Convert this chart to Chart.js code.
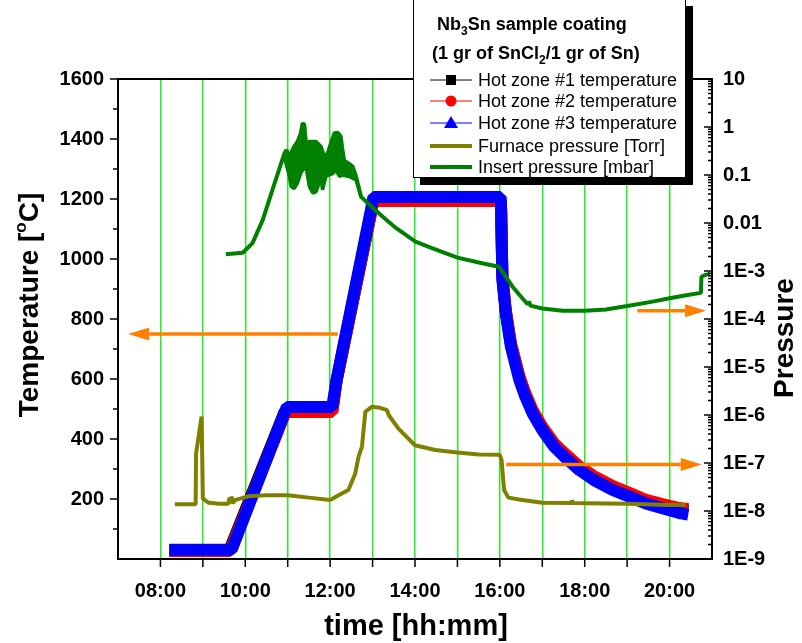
<!DOCTYPE html>
<html>
<head>
<meta charset="utf-8">
<script src="https://cdn.jsdelivr.net/npm/chart.js@4.4.0/dist/chart.umd.min.js"></script>
<style>
  html, body { margin: 0; padding: 0; background: #fff; }
  #wrap { position: relative; width: 802px; height: 643px; overflow: hidden; font-family: "Liberation Sans", Arial, sans-serif; }
  #legend { position: absolute; left: 413px; top: -1px; width: 271px; height: 177px; border: 1px solid #000; background: #fff; box-shadow: 7px 7px 0 #000; color: #000; }
  #legend .t { position: absolute; font-weight: bold; font-size: 18px; line-height: 20px; white-space: nowrap; }
  #legend sub { font-size: 12px; line-height: 0; vertical-align: -5px; }
  #legend .row { position: absolute; left: 16px; height: 20px; white-space: nowrap; font-size: 18px; line-height: 20px; }
  #legend .row svg { position: absolute; left: 0; top: 0; }
  #legend .row span { position: absolute; left: 48px; top: 0; }
</style>
</head>
<body>
<div id="wrap">
  <canvas id="c" width="802" height="643"></canvas>
  <div id="legend">
    <div class="t" style="left:23px; top:14px;">Nb<sub>3</sub>Sn sample coating</div>
    <div class="t" style="left:18px; top:43px;">(1 gr of SnCl<sub>2</sub>/1 gr of Sn)</div>
    <div class="row" style="top:70px;"><svg width="44" height="20"><line x1="0" y1="10" x2="42" y2="10" stroke="#000" stroke-width="1"/><rect x="16" y="5" width="10" height="10" fill="#000"/></svg><span>Hot zone #1 temperature</span></div>
    <div class="row" style="top:91px;"><svg width="44" height="20"><line x1="0" y1="10" x2="42" y2="10" stroke="#f00" stroke-width="1"/><circle cx="21" cy="10" r="5.5" fill="#f00"/></svg><span>Hot zone #2 temperature</span></div>
    <div class="row" style="top:113px;"><svg width="44" height="20"><line x1="0" y1="10" x2="42" y2="10" stroke="#00f" stroke-width="1"/><polygon points="21,3 28,15 14,15" fill="#00f"/></svg><span>Hot zone #3 temperature</span></div>
    <div class="row" style="top:136px;"><svg width="44" height="20"><line x1="0" y1="10" x2="42" y2="10" stroke="#808000" stroke-width="4"/></svg><span>Furnace pressure [Torr]</span></div>
    <div class="row" style="top:157px;"><svg width="44" height="20"><line x1="0" y1="10" x2="42" y2="10" stroke="#008000" stroke-width="4"/></svg><span>Insert pressure [mbar]</span></div>
  </div>
</div>
<script>
// time in decimal hours
const timeTicks = [8, 10, 12, 14, 16, 18, 20];
const timeLabels = ["08:00", "10:00", "12:00", "14:00", "16:00", "18:00", "20:00"];
const tempTicks = [200, 400, 600, 800, 1000, 1200, 1400, 1600];
const tempLabels = ["200", "400", "600", "800", "1000", "1200", "1400", "1600"];
const pressureTicks = [1e-9, 1e-8, 1e-7, 1e-6, 1e-5, 1e-4, 1e-3, 0.01, 0.1, 1, 10];
const pressureLabels = ["1E-9", "1E-8", "1E-7", "1E-6", "1E-5", "1E-4", "1E-3", "0.01", "0.1", "1", "10"];

// hot zone temperatures [°C]
const zone1Time = [8.21, 9.62, 10.93, 12.05, 12.15, 12.96, 13.02, 16.02, 16.03, 16.06, 16.14, 16.26, 16.46, 16.6, 16.77, 17.0, 17.28, 17.52, 17.87, 18.22, 18.66, 19.05, 19.44, 19.83, 20.23, 20.44];
const zone1Temp = [28, 28, 492, 492, 592, 1150, 1195, 1195, 1165, 940, 825, 715, 605, 550, 493, 438, 382, 350, 305, 272, 240, 217, 194, 180, 165, 161];
const zone2Time = [8.21, 9.64, 10.95, 12.05, 12.15, 12.96, 13.02, 16.02, 16.03, 16.06, 16.14, 16.26, 16.46, 16.6, 16.77, 17.0, 17.28, 17.52, 17.87, 18.22, 18.66, 19.05, 19.44, 19.83, 20.23, 20.44];
const zone2Temp = [27, 27, 490, 490, 592, 1152, 1193, 1193, 1165, 945, 830, 720, 610, 553, 497, 441, 386, 353, 309, 276, 243, 221, 197, 183, 170, 167];
const zone3Time = [8.21, 9.68, 10.98, 12.05, 12.15, 12.96, 13.02, 16.02, 16.03, 16.06, 16.14, 16.26, 16.46, 16.6, 16.77, 17.0, 17.28, 17.52, 17.87, 18.22, 18.66, 19.05, 19.44, 19.83, 20.23, 20.44];
const zone3Temp = [31, 31, 507, 507, 597, 1163, 1207, 1207, 1160, 930, 819, 708, 597, 541, 486, 430, 374, 341, 297, 263, 230, 208, 185, 169, 153, 148];

// furnace pressure [Torr]
const furnaceTime = [8.34, 8.83, 8.84, 8.97, 9.0, 9.14, 9.38, 9.6, 9.63, 9.65, 9.68, 9.7, 9.77, 10.09, 10.48, 11.0, 11.5, 12.0, 12.2, 12.43, 12.59, 12.67, 12.75, 12.83, 12.98, 13.18, 13.34, 13.38, 13.61, 14.0, 14.48, 15.0, 15.5, 16.0, 16.04, 16.1, 16.2, 16.45, 17.0, 17.68, 17.7, 17.72, 18.0, 19.0, 20.0, 20.38];
const furnaceP = [1.38e-8, 1.38e-8, 1.58e-7, 9.3e-7, 1.82e-8, 1.48e-8, 1.41e-8, 1.41e-8, 1.9e-8, 1.45e-8, 2.0e-8, 1.45e-8, 1.7e-8, 2.04e-8, 2.14e-8, 2.14e-8, 1.9e-8, 1.7e-8, 2.14e-8, 2.75e-8, 6.0e-8, 1.35e-7, 2.2e-7, 1.17e-6, 1.48e-6, 1.41e-6, 1.26e-6, 1.0e-6, 5.2e-7, 2.34e-7, 1.86e-7, 1.66e-7, 1.51e-7, 1.48e-7, 1.15e-7, 2.75e-8, 1.9e-8, 1.74e-8, 1.48e-8, 1.46e-8, 1.7e-8, 1.46e-8, 1.45e-8, 1.41e-8, 1.33e-8, 1.33e-8];

// insert pressure [mbar], upper edge of the noisy part
const insertTime = [9.54, 9.94, 10.17, 10.41, 10.64, 10.92, 10.97, 11.04, 11.15, 11.23, 11.31, 11.35, 11.39, 11.43, 11.51, 11.67, 11.78, 11.86, 11.94, 12.02, 12.10, 12.18, 12.25, 12.29, 12.33, 12.45, 12.53, 12.61, 12.73, 13.0, 13.24, 13.55, 14.01, 14.4, 15.0, 15.58, 15.98, 16.3, 16.53, 16.66, 16.69, 16.72, 17.0, 17.48, 18.0, 18.5, 19.0, 19.6, 20.0, 20.46, 20.74, 20.75, 20.85, 20.95];
const insertP = [2.24e-3, 2.4e-3, 3.8e-3, 1.15e-2, 4.9e-2, 0.28, 0.33, 0.24, 0.39, 0.49, 0.74, 1.2, 1.12, 0.46, 0.49, 0.49, 0.39, 0.24, 0.28, 0.46, 0.74, 0.76, 0.63, 0.33, 0.2, 0.17, 0.15, 0.093, 0.035, 0.021, 0.0135, 0.0079, 0.0041, 0.003, 0.0019, 0.00145, 0.00123, 4.7e-4, 2.7e-4, 2.0e-4, 2.3e-4, 1.9e-4, 1.66e-4, 1.48e-4, 1.48e-4, 1.58e-4, 1.86e-4, 2.3e-4, 2.7e-4, 3.2e-4, 3.5e-4, 7.6e-4, 8.3e-4, 8.7e-4];
// lower edge of the noisy part (filled up to the insert line)
const insertLowTime = [10.92, 11.04, 11.08, 11.15, 11.23, 11.31, 11.35, 11.43, 11.51, 11.59, 11.67, 11.74, 11.78, 11.82, 11.90, 11.98, 12.06, 12.14, 12.22, 12.29, 12.45, 12.61, 12.73];
const insertLowP = [0.24, 0.093, 0.058, 0.052, 0.068, 0.11, 0.126, 0.15, 0.058, 0.042, 0.045, 0.068, 0.093, 0.049, 0.093, 0.1, 0.107, 0.126, 0.093, 0.1, 0.093, 0.079, 0.035];

// orange arrows: axis, start time, end time, level
const arrowAxis = ["yT", "yP", "yP"];
const arrowFrom = [12.18, 19.24, 16.15];
const arrowTo = [7.24, 20.86, 20.76];
const arrowLevel = [750, 1.48e-4, 9.3e-8];

const FONT = '"Liberation Sans", Arial, sans-serif';

function series(label, t, v, color, width, axis, order) {
  return {
    label: label,
    data: t.map((x, i) => ({ x: x, y: v[i] })),
    borderColor: color,
    backgroundColor: color,
    borderWidth: width,
    pointRadius: 0,
    yAxisID: axis,
    order: order,
    borderJoinStyle: "bevel",
    fill: false,
  };
}

const datasets = [
  series("Hot zone #1 temperature", zone1Time, zone1Temp, "#000000", 12, "yT", 6),
  series("Hot zone #2 temperature", zone2Time, zone2Temp, "#ff0000", 12, "yT", 5),
  series("Hot zone #3 temperature", zone3Time, zone3Temp, "#0000ff", 12, "yT", 4),
  series("Furnace pressure [Torr]", furnaceTime, furnaceP, "#808000", 4, "yP", 3),
  series("Insert pressure [mbar]", insertTime, insertP, "#008000", 4, "yP", 2),
  series("insert low", insertLowTime, insertLowP, "#008000", 3.5, "yP", 2),
];
datasets[5].fill = { target: 4 };

const extras = {
  id: "extras",
  afterDatasetsDraw(chart) {
    const { ctx, scales } = chart;
    const x = scales.x;
    ctx.save();
    ctx.strokeStyle = "#ff8000";
    ctx.fillStyle = "#ff8000";
    ctx.lineWidth = 3.5;
    for (let i = 0; i < arrowFrom.length; i++) {
      const y = scales[arrowAxis[i]].getPixelForValue(arrowLevel[i]);
      const x0 = x.getPixelForValue(arrowFrom[i]);
      const x1 = x.getPixelForValue(arrowTo[i]);
      const dir = x1 > x0 ? 1 : -1;
      const head = 21;
      ctx.beginPath();
      ctx.moveTo(x0, y);
      ctx.lineTo(x1 - dir * head, y);
      ctx.stroke();
      ctx.beginPath();
      ctx.moveTo(x1, y);
      ctx.lineTo(x1 - dir * head, y - 6.5);
      ctx.lineTo(x1 - dir * head, y + 6.5);
      ctx.closePath();
      ctx.fill();
    }
    ctx.restore();
  },
  afterDraw(chart) {
    const { ctx, chartArea: a, scales } = chart;
    const x = scales.x, yT = scales.yT, yP = scales.yP;
    ctx.save();
    ctx.strokeStyle = "#000";
    ctx.lineWidth = 2;
    ctx.strokeRect(a.left, a.top, a.right - a.left, a.bottom - a.top);

    // tick marks
    ctx.lineWidth = 1.5;
    ctx.beginPath();
    for (let h = 8; h <= 20; h++) {
      const px = x.getPixelForValue(h);
      ctx.moveTo(px, a.bottom);
      ctx.lineTo(px, a.bottom + 8);
    }
    for (let v = 100; v <= 1600; v += 100) {
      const py = yT.getPixelForValue(v);
      const len = v % 200 === 0 ? 8 : 5;
      ctx.moveTo(a.left - len, py);
      ctx.lineTo(a.left, py);
    }
    for (let d = -9; d <= 1; d++) {
      for (let k = 1; k <= 9; k++) {
        const v = k * Math.pow(10, d);
        if (v > 10.0001) break;
        const py = yP.getPixelForValue(v);
        const len = k === 1 ? 8 : 4;
        ctx.moveTo(a.right - len, py);
        ctx.lineTo(a.right, py);
      }
    }
    ctx.stroke();

    // axis titles
    ctx.fillStyle = "#000";
    ctx.textBaseline = "middle";
    const big = "bold 28px " + FONT;
    const small = "bold 17px " + FONT;
    ctx.font = big;
    const p1 = "Temperature [", p3 = "C]";
    const w1 = ctx.measureText(p1).width, w3 = ctx.measureText(p3).width;
    ctx.font = small;
    const w2 = ctx.measureText("o").width;
    const total = w1 + w2 + w3;
    ctx.save();
    ctx.translate(30, (a.top + a.bottom) / 2 - 14);
    ctx.rotate(-Math.PI / 2);
    ctx.textAlign = "left";
    ctx.font = big;
    ctx.fillText(p1, -total / 2, 0);
    ctx.font = small;
    ctx.fillText("o", -total / 2 + w1, -9);
    ctx.font = big;
    ctx.fillText(p3, -total / 2 + w1 + w2, 0);
    ctx.restore();

    ctx.save();
    ctx.translate(785, (a.top + a.bottom) / 2 + 19);
    ctx.rotate(-Math.PI / 2);
    ctx.textAlign = "center";
    ctx.font = big;
    ctx.fillText("Pressure", 0, 0);
    ctx.restore();

    ctx.textAlign = "center";
    ctx.font = "bold 29px " + FONT;
    ctx.fillText("time [hh:mm]", (a.left + a.right) / 2 + 1, 627);
    ctx.restore();
  },
};

const tickFont = { family: FONT, size: 20, weight: "bold" };

new Chart(document.getElementById("c"), {
  type: "line",
  data: { datasets: datasets },
  options: {
    responsive: false,
    animation: false,
    layout: { padding: { top: 79, left: 0, right: 0, bottom: 0 } },
    plugins: { legend: { display: false }, tooltip: { enabled: false } },
    scales: {
      x: {
        type: "linear",
        min: 7,
        max: 21,
        afterFit: (s) => { s.height = 84; },
        border: { display: false },
        grid: {
          drawTicks: false,
          lineWidth: 1.5,
          color: (c) => (c.tick && c.tick.value > 7 && c.tick.value < 21 ? "#22ee22" : "rgba(0,0,0,0)"),
        },
        ticks: {
          stepSize: 1,
          autoSkip: false,
          maxRotation: 0,
          padding: 20,
          color: "#000",
          font: tickFont,
          callback: (v) => { const i = timeTicks.indexOf(v); return i >= 0 ? timeLabels[i] : ""; },
        },
      },
      yT: {
        type: "linear",
        position: "left",
        min: 0,
        max: 1600,
        afterFit: (s) => { s.width = 118; },
        border: { display: false },
        grid: { display: false, drawTicks: false },
        ticks: {
          stepSize: 200,
          autoSkip: false,
          padding: 14,
          color: "#000",
          font: tickFont,
          callback: (v) => { const i = tempTicks.indexOf(v); return i >= 0 ? tempLabels[i] : ""; },
        },
      },
      yP: {
        type: "logarithmic",
        position: "right",
        min: 1e-9,
        max: 10,
        afterFit: (s) => { s.width = 90; },
        afterBuildTicks: (s) => { s.ticks = pressureTicks.map((v) => ({ value: v })); },
        border: { display: false },
        grid: { display: false, drawTicks: false },
        ticks: {
          autoSkip: false,
          padding: 11,
          color: "#000",
          font: tickFont,
          callback: (v, i) => pressureLabels[i],
        },
      },
    },
  },
  plugins: [extras],
});
</script>
</body>
</html>
